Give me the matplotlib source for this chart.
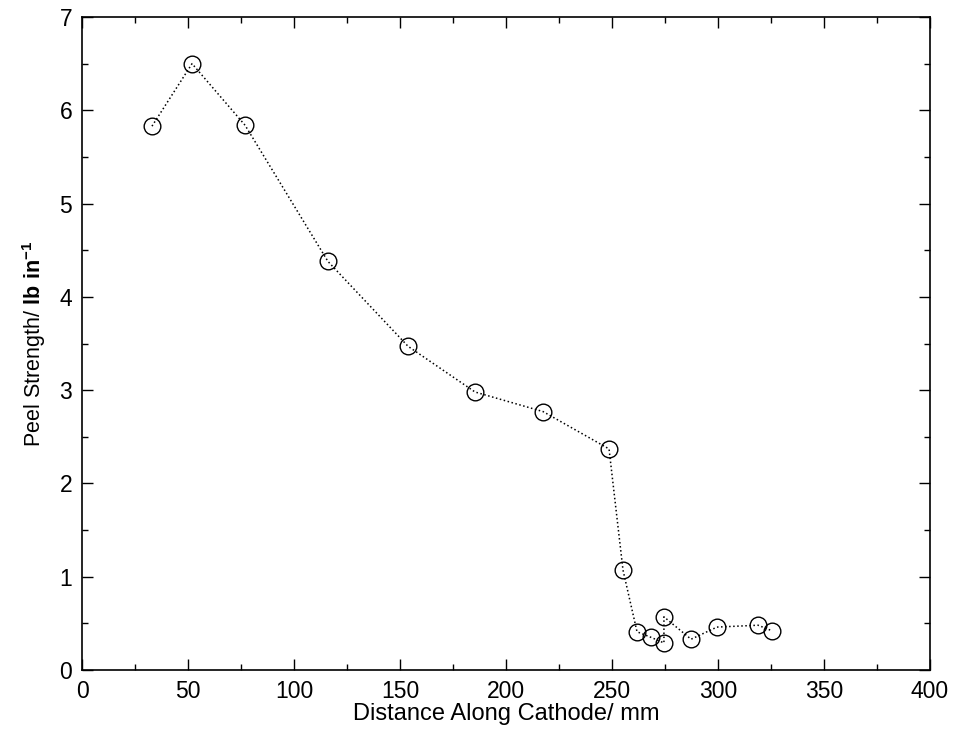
import numpy as np
import matplotlib.pyplot as plt
from matplotlib.ticker import MultipleLocator

plt.rcParams['font.family'] = ['Liberation Sans', 'DejaVu Sans']
plt.rcParams['mathtext.fontset'] = 'custom'
plt.rcParams['mathtext.rm'] = 'Liberation Sans'
plt.rcParams['mathtext.bf'] = 'Liberation Sans:bold'

# distance along cathode (mm) and peel strength (lb/in), in measurement order
distance = [33.0, 51.9, 76.9, 116.0, 153.8, 185.4, 217.5, 248.6, 255.2,
            261.8, 268.4, 274.5, 274.5, 287.3, 299.5, 318.9, 325.5]
peel = [5.83, 6.50, 5.84, 4.38, 3.47, 2.98, 2.77, 2.37, 1.07,
        0.41, 0.35, 0.29, 0.57, 0.33, 0.46, 0.48, 0.42]

fig = plt.figure(figsize=(9.55, 7.4), dpi=100)
ax = fig.add_axes([0.0859, 0.0946, 0.8879, 0.8824])

ax.plot(distance, peel, linestyle=':', color='black', lw=1.1,
        marker='o', markersize=12, markerfacecolor='none',
        markeredgecolor='black', markeredgewidth=1.0)

ax.set_xlim(0, 400)
ax.set_ylim(0, 7)
ax.xaxis.set_major_locator(MultipleLocator(50))
ax.xaxis.set_minor_locator(MultipleLocator(25))
ax.yaxis.set_major_locator(MultipleLocator(1))
ax.yaxis.set_minor_locator(MultipleLocator(0.5))
ax.tick_params(which='both', direction='in', top=True, right=True,
               labelsize=16.5, width=1.0)
ax.tick_params(which='major', length=8, pad=7)
ax.tick_params(which='minor', length=4)
for s in ax.spines.values():
    s.set_linewidth(1.2)

ax.set_xlabel('Distance Along Cathode/ mm', fontsize=17, labelpad=0)
ax.set_ylabel(r'Peel Strength/ $\mathbf{lb\ in^{-1}}$', fontsize=15.5, labelpad=8)

fig.savefig('out.png', dpi=100)
